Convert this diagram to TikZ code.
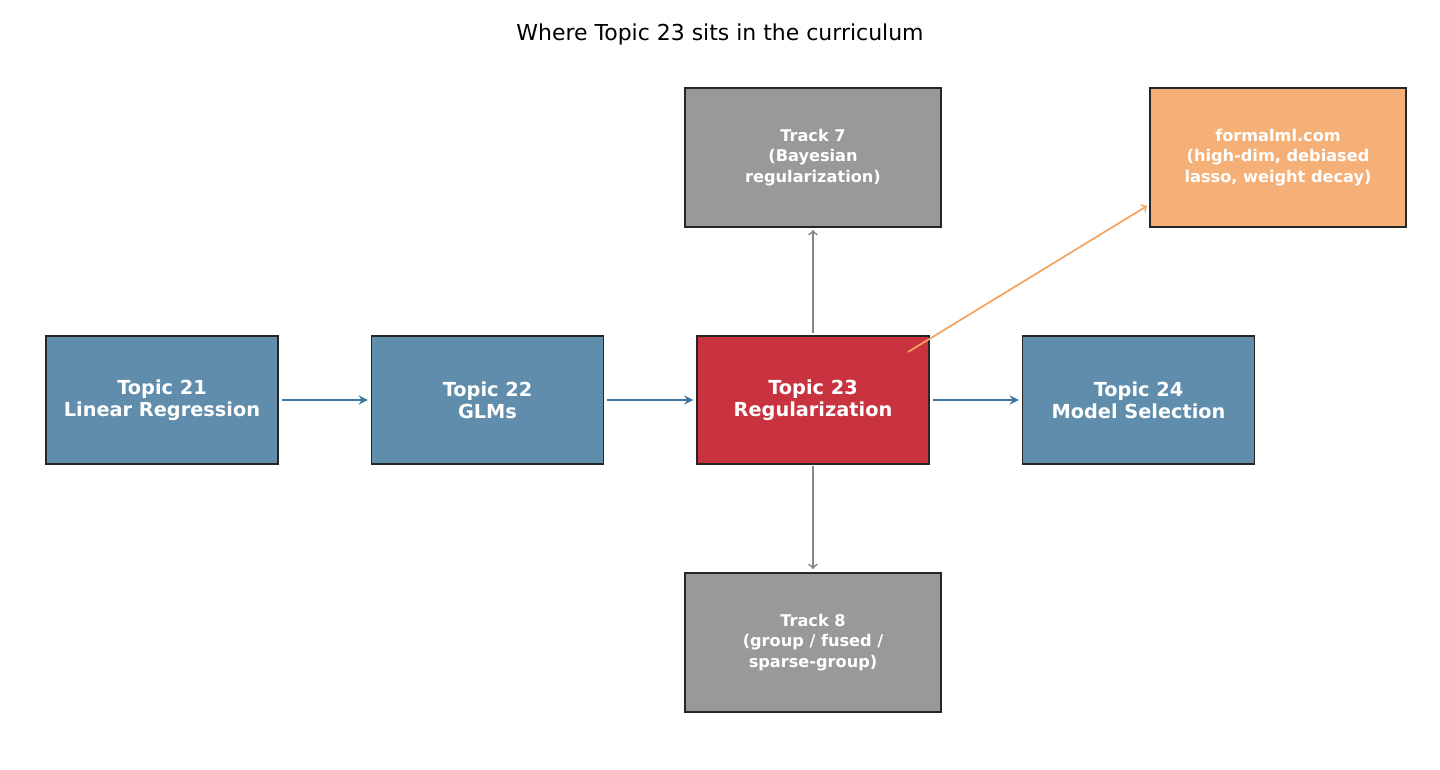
\documentclass[tikz,border=0pt]{standalone}
\usepackage{fontspec}
\setmainfont{DejaVu Sans}
\begin{document}
\definecolor{bbl}{HTML}{5F8DAB}
\definecolor{rrd}{HTML}{C9333F}
\definecolor{ggr}{HTML}{999999}
\definecolor{oor}{HTML}{F4B077}
\definecolor{abl}{HTML}{3F77A0}
\definecolor{agr}{HTML}{888888}
\definecolor{aor}{HTML}{F4A460}
\begin{tikzpicture}[x=0.02cm,y=-0.02cm,
 box/.style={draw=black!85,line width=0.8pt,text=white,align=center,font=\bfseries\fontsize{11}{12.5}\selectfont,minimum width=232*0.02cm,minimum height=128*0.02cm,inner sep=0},
 sbox/.style={box,font=\bfseries\fontsize{9.2}{11.8}\selectfont,minimum width=256*0.02cm,minimum height=139*0.02cm},
 arr/.style={-stealth,line width=1.3pt,shorten >=3*0.02cm,shorten <=3*0.02cm},
 tarr/.style={->,line width=1pt}]
\useasboundingbox (0,0) rectangle (1440,769);
\node[font=\fontsize{12.5}{14}\selectfont] (title) at (720,34) {Where Topic 23 sits in the curriculum};
\node[box,fill=bbl] (t21) at (162,400) {Topic 21\\Linear Regression};
\node[box,fill=bbl] (t22) at (487.5,400) {Topic 22\\GLMs};
\node[box,fill=rrd] (t23) at (813,400) {Topic 23\\Regularization};
\node[box,fill=bbl] (t24) at (1138.5,400) {Topic 24\\Model Selection};
\node[sbox,fill=ggr] (tr7) at (813,157.5) {Track 7\\(Bayesian\\regularization)};
\node[sbox,fill=ggr] (tr8) at (813,642.5) {Track 8\\(group / fused /\\sparse-group)};
\node[sbox,fill=oor] (fml) at (1278,157.5) {formalml.com\\(high-dim, debiased\\lasso, weight decay)};
\draw[arr,abl] (t21) -- (t22);
\draw[arr,abl] (t22) -- (t23);
\draw[arr,abl] (t23) -- (t24);
\coordinate (t23top) at (813,333);
\coordinate (tr7bot) at (813,230);
\coordinate (t23bot) at (813,466);
\coordinate (tr8top) at (813,569);
\coordinate (os) at (908,352);
\coordinate (oe) at (1147,206);
\draw[tarr,agr] (t23top) -- (tr7bot);
\draw[tarr,agr] (t23bot) -- (tr8top);
\draw[tarr,aor] (os) -- (oe);
\end{tikzpicture}
\end{document}
